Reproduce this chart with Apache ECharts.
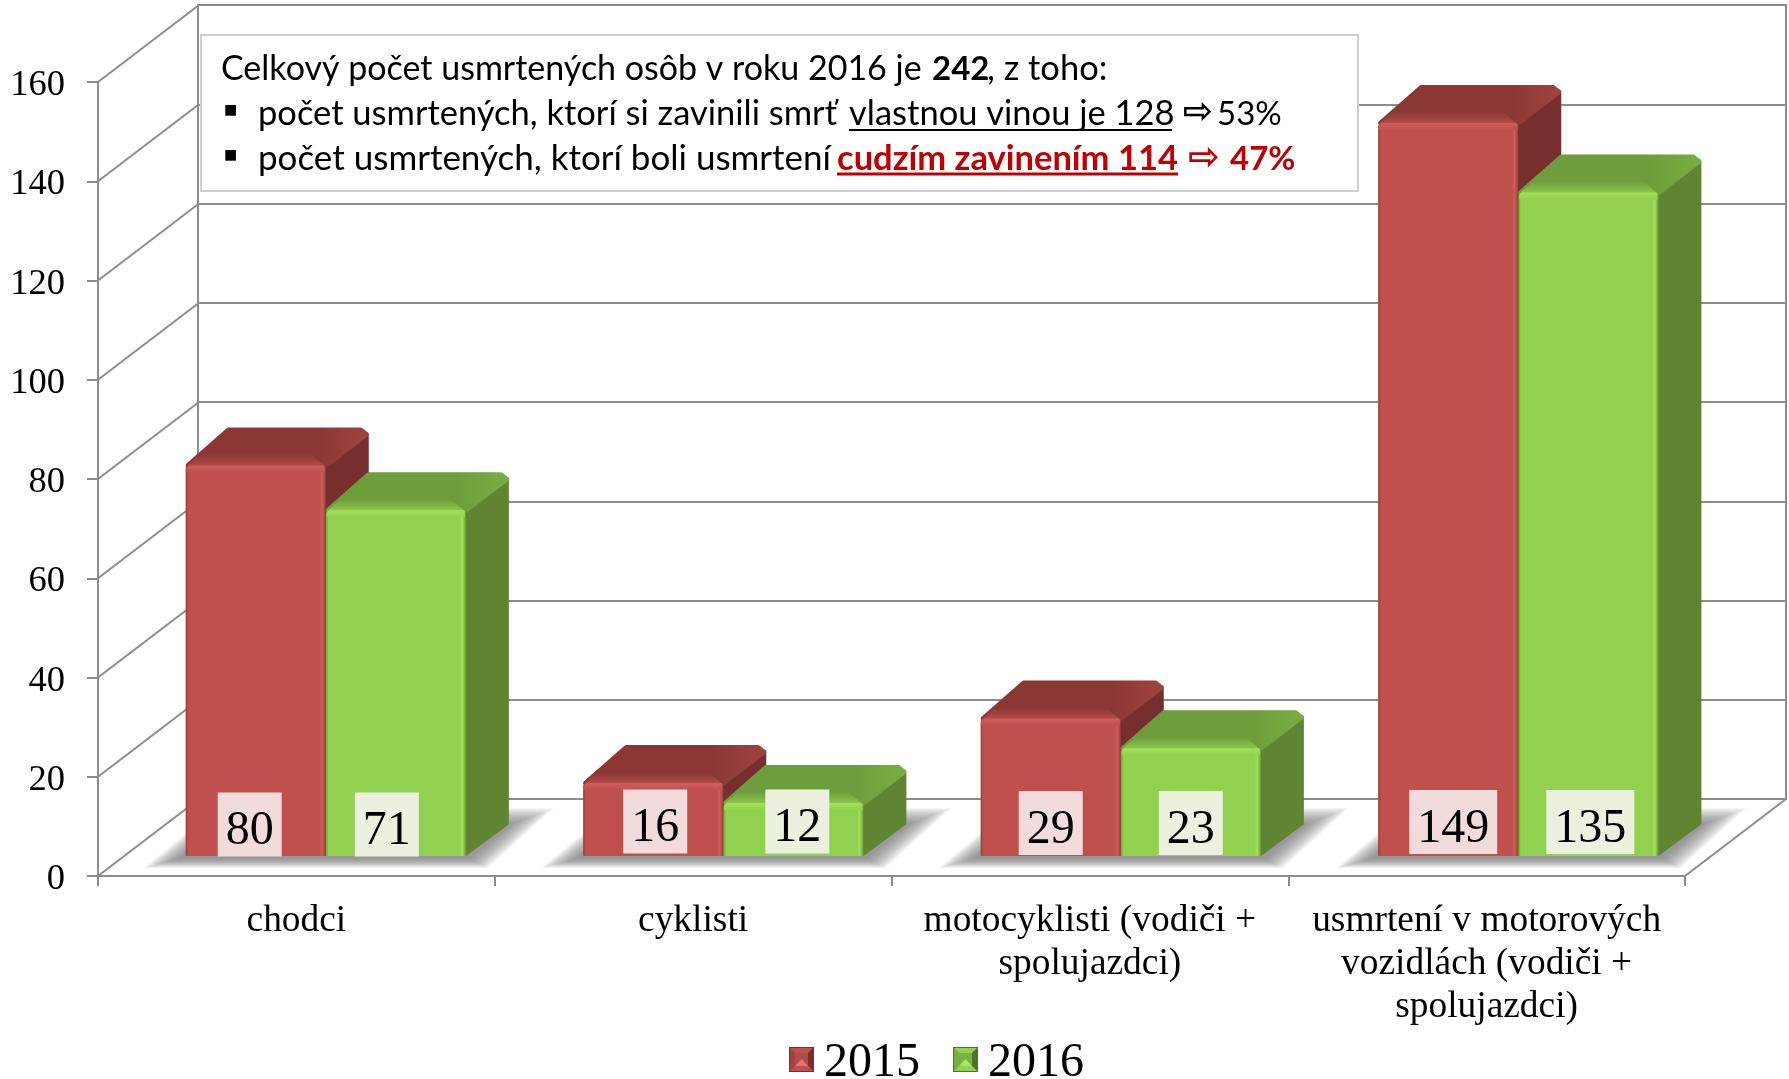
<!DOCTYPE html>
<html>
<head>
<meta charset="utf-8">
<title>Usmrtené osoby</title>
<script src="https://cdn.jsdelivr.net/npm/echarts@6/dist/echarts.min.js"></script>
<style>
  html, body { margin: 0; padding: 0; background: #fff; }
  #chart { width: 1789px; height: 1079px; }
</style>
</head>
<body>
<div id="chart"></div>
<script>
const categories = [
  'chodci',
  'cyklisti',
  'motocyklisti (vodiči +\nspolujazdci)',
  'usmrtení v motorových\nvozidlách (vodiči +\nspolujazdci)'
];
const values2015 = [80, 16, 29, 149];
const values2016 = [71, 12, 23, 135];
const yTicks = [0, 20, 40, 60, 80, 100, 120, 140, 160];

const serif = '"Liberation Serif"';
const boxFont = 'Lato';
const gray = '#8c8c8c';

// depth of the walls and of the bars
const wallDx = 101, wallDy = 77;
const barDx = 43, barDy = 38;
const barShare = 0.3525;   // one bar, as part of the category band
const footLift = 6.5;      // bars stand a bit above the value zero

// the value boxes do not sit exactly in the bar centre
const labelNudgeX = [[-6, -9], [2, 4], [0, 0], [5, 2]];
const labelNudgeY = [1.5, -1.5, 0, -1];

const red = {
  front: '#c0504d', rim: '#d25e5a', dark: '#93403d', edge: '#d05c58',
  top: '#8b3835', topLight: '#9f443f', band: 'rgba(176,74,70,1)', bandClear: 'rgba(176,74,70,0)',
  side: '#772f2d', box: '#f2dcdb'
};
const green = {
  front: '#92d050', rim: '#a4e35b', dark: '#6d9c3c', edge: '#a0e058',
  top: '#6e9d3b', topLight: '#79ae40', band: 'rgba(140,198,76,1)', bandClear: 'rgba(140,198,76,0)',
  side: '#5f8532', box: '#ebf1de'
};

function grad(x2, y2, stops) {
  return {
    type: 'linear', x: 0, y: 0, x2: x2, y2: y2,
    colorStops: stops.map(s => ({ offset: s[0], color: s[1] }))
  };
}

function poly(points, fill, z2) {
  return {
    type: 'polygon', z2: z2, silent: true,
    shape: { points: points },
    style: { fill: fill, stroke: fill, lineWidth: 5, lineJoin: 'round' }
  };
}

// soft floor shadow, stacked thin polygons from wide to narrow
function floorShadow(x0, r, foot) {
  const outer = [[x0 - 42, foot + 12], [r + 22, foot + 12], [r + 88, foot - 48], [x0 + 30, foot - 48]];
  const inner = [[x0 - 8, foot + 3], [r + 4, foot + 3], [r + 46, foot - 32], [x0 + 40, foot - 32]];
  const layers = [];
  const n = 16;
  for (let k = 0; k < n; k++) {
    const t = k / (n - 1);
    layers.push({
      type: 'polygon', z2: 1 + k / 100, silent: true,
      shape: { points: outer.map((p, i) => [p[0] + (inner[i][0] - p[0]) * t, p[1] + (inner[i][1] - p[1]) * t]) },
      style: { fill: 'rgba(110,110,110,0.07)' }
    });
  }
  return layers;
}

function renderBar(col, dodge, seriesIdx, z2) {
  return function (params, api) {
    const cat = api.value(0), val = api.value(1);
    const band = api.size([1, 0])[0];
    const w = band * barShare;
    const c = api.coord([cat, 0]);
    const foot = c[1] - footLift;
    const yt = api.coord([cat, val])[1];
    const x0 = c[0] + dodge * w, x1 = x0 + w;
    const ins = 2.5;
    let kids = [];

    // once per category, drawn with the first series
    if (seriesIdx === 0) {
      kids = kids.concat(floorShadow(x0, x1 + w, foot));
    }

    // side
    kids.push(poly([[x1, foot - 3], [x1 + barDx - ins, foot - barDy + 5], [x1 + barDx - ins, yt - barDy + 7], [x1, yt]],
      col.side, z2));
    // top
    kids.push(poly([[x0 + ins, yt], [x1, yt], [x1 + barDx - ins, yt - barDy + 7], [x1 + barDx - 8, yt - barDy + ins], [x0 + barDx, yt - barDy + ins]],
      grad(1, 0, [[0, col.top], [0.72, col.top], [1, col.topLight]]), z2));
    // lighter band along the front of the top
    kids.push({
      type: 'polygon', z2: z2, silent: true,
      shape: { points: [[x0 + 2, yt], [x1 - 2, yt], [x1 - 15, yt - 11], [x0 + 15, yt - 11]] },
      style: { fill: grad(0, 1, [[0, col.bandClear], [1, col.band]]) }
    });
    // front
    kids.push({
      type: 'rect', z2: z2 + 1, silent: true,
      shape: { x: x0, y: yt, width: w, height: foot - yt, r: [4, 2, 1, 1] },
      style: {
        fill: grad(1, 0, [[0, col.dark], [0.02, col.front], [0.955, col.front], [0.975, col.edge], [1, col.dark]])
      }
    });
    // bright rim over the front
    kids.push({
      type: 'rect', z2: z2 + 1, silent: true,
      shape: { x: x0 + 1, y: yt, width: w - 2, height: 7, r: [4, 2, 0, 0] },
      style: { fill: grad(0, 1, [[0, col.rim], [1, col.front]]) }
    });
    // value box, the digits sit high in their line so they go down a bit
    const text = String(val);
    const boxW = text.length * 24 + 16;
    const lx = x0 + w / 2 + labelNudgeX[cat][seriesIdx];
    const ly = foot - 33 + labelNudgeY[cat];
    kids.push({
      type: 'rect', z2: 39, silent: true,
      shape: { x: lx - boxW / 2, y: ly - 32, width: boxW, height: 64 },
      style: { fill: col.box }
    });
    kids.push({
      type: 'text', z2: 40, silent: true,
      x: lx,
      y: ly + 7,
      style: {
        text: text,
        font: '48px ' + serif,
        fill: '#000',
        align: 'center',
        verticalAlign: 'middle'
      }
    });
    return { type: 'group', children: kids };
  };
}

function renderDiagonal(params, api) {
  const band = api.size([1, 0])[0];
  const val = api.value(1);
  const p = api.coord([0, val]);
  const x = p[0] - band / 2;
  const kids = [{
    type: 'line', silent: true,
    shape: { x1: x, y1: p[1], x2: x + wallDx, y2: p[1] - wallDy },
    style: { stroke: gray, lineWidth: 2 }
  }];
  if (val === 0) {
    const e = api.coord([categories.length - 1, 0])[0] + band / 2;
    kids.push({
      type: 'line', silent: true,
      shape: { x1: e, y1: p[1], x2: e + wallDx, y2: p[1] - wallDy },
      style: { stroke: gray, lineWidth: 2 }
    });
  }
  return { type: 'group', children: kids };
}

function bevelIcon(mid, top, left, right, bottom, rimColor) {
  const svg = '<svg xmlns="http://www.w3.org/2000/svg" width="25" height="25">' +
    '<rect width="25" height="25" fill="' + mid + '"/>' +
    '<polygon points="0,0 25,0 19,6 6,6" fill="' + top + '"/>' +
    '<polygon points="0,0 6,6 6,19 0,25" fill="' + left + '"/>' +
    '<polygon points="25,0 19,6 19,19 25,25" fill="' + right + '"/>' +
    '<polygon points="0,25 6,19 19,19 25,25" fill="' + top + '"/>' +
    '<polygon points="6,19 12.5,12 19,19" fill="' + bottom + '"/>' +
    '<rect x="0.5" y="0.5" width="24" height="24" fill="none" stroke="' + rimColor + '"/>' +
    '</svg>';
  return 'image://data:image/svg+xml;charset=utf-8,' + encodeURIComponent(svg);
}

// one run of text in the info box
function run(text, x, y, opts) {
  opts = opts || {};
  return {
    type: 'text', x: x, y: y, z: 20, silent: true,
    style: {
      text: text,
      font: (opts.weight || 'normal') + ' ' + (opts.size || 34.5) + 'px ' + (opts.family || boxFont),
      fill: opts.color || '#000',
      verticalAlign: 'middle'
    }
  };
}

function rule(x1, x2, y, color, width) {
  return {
    type: 'line', z: 20, silent: true,
    shape: { x1: x1, y1: y, x2: x2, y2: y },
    style: { stroke: color, lineWidth: width }
  };
}

const darkRed = '#c00000';
const arrowFont = '"DejaVu Sans"';
const lineY = [69, 114, 159];

const infoBox = [
  {
    type: 'rect', z: 19, silent: true,
    shape: { x: 201, y: 35, width: 1157, height: 156 },
    style: { fill: '#fff', stroke: '#cfcfcf', lineWidth: 2 }
  },
  run('Celkový počet usmrtených osôb v roku 2016 je', 221, lineY[0], { size: 34 }),
  run('242', 932, lineY[0], { weight: 'bold', size: 33 }),
  run(', z toho:', 987, lineY[0]),

  run('■', 224, lineY[1] - 4, { size: 14, family: arrowFont }),
  run('počet usmrtených, ktorí si zavinili smrť', 258, lineY[1]),
  run('vlastnou vinou je 128', 849, lineY[1]),
  rule(849, 1172, 130, '#000', 2),
  run('⇨', 1183, lineY[1], { size: 36, family: arrowFont, weight: 'bold' }),
  run('53%', 1217, lineY[1], { size: 33 }),

  run('■', 224, lineY[2] - 4, { size: 14, family: arrowFont }),
  run('počet usmrtených, ktorí boli usmrtení', 258, lineY[2], { size: 35 }),
  run('cudzím zavinením 114', 837, lineY[2], { weight: 'bold', color: darkRed }),
  rule(837, 1178, 174, darkRed, 3),
  run('⇨', 1188, lineY[2], { size: 38, family: arrowFont, weight: 'bold', color: darkRed }),
  run('47%', 1230, lineY[2], { weight: 'bold', size: 33, color: darkRed })
];

const chart = echarts.init(document.getElementById('chart'), null, { renderer: 'canvas' });

chart.setOption({
  animation: false,
  backgroundColor: '#fff',
  textStyle: { fontFamily: serif },
  legend: {
    left: 789,
    top: 1039,
    padding: 0,
    itemGap: 33,
    itemWidth: 25,
    itemHeight: 25,
    selectedMode: false,
    formatter: '{year|{name}}',
    textStyle: {
      color: '#000',
      rich: {
        year: { fontFamily: serif, fontSize: 48, color: '#000', padding: [7, 0, 0, 5] }
      }
    },
    data: [
      { name: '2015', icon: bevelIcon('#a8504d', '#c0504d', '#a04440', '#7a2f2d', '#f2706a', '#7a2f2d') },
      { name: '2016', icon: bevelIcon('#7cae45', '#92d050', '#79ae40', '#4f7229', '#a8e860', '#4f7229') }
    ]
  },
  grid: [
    // back wall
    { left: 198, top: 5, width: 1588, height: 794, show: true, borderColor: gray, borderWidth: 2, backgroundColor: 'transparent' },
    // front axes
    { left: 98, top: 82, width: 1587, height: 794 },
    // plane of the bars
    { left: 127, top: 68.5, width: 1590, height: 794 }
  ],
  xAxis: [
    { gridIndex: 0, type: 'category', data: categories, show: false },
    {
      gridIndex: 1, type: 'category', data: categories,
      axisLine: { show: true, lineStyle: { color: gray, width: 2 } },
      axisTick: { show: true, length: 10, alignWithLabel: false, lineStyle: { color: gray, width: 2 } },
      splitLine: { show: false },
      axisLabel: { show: true, interval: 0, margin: 24, fontSize: 37.4, lineHeight: 43, color: '#000', fontFamily: serif }
    },
    { gridIndex: 2, type: 'category', data: categories, show: false }
  ],
  yAxis: [
    {
      gridIndex: 0, type: 'value', min: 0, max: 160, interval: 20,
      axisLine: { show: false }, axisTick: { show: false }, axisLabel: { show: false },
      splitLine: { show: true, lineStyle: { color: gray, width: 2 } }
    },
    {
      gridIndex: 1, type: 'value', min: 0, max: 160, interval: 20,
      axisLine: { show: true, lineStyle: { color: gray, width: 2 } },
      axisTick: { show: true, length: 11, lineStyle: { color: gray, width: 2 } },
      splitLine: { show: false },
      // top aligned with a short line height drops the digits onto the tick
      axisLabel: { show: true, margin: 33, fontSize: 36.5, color: '#000', fontFamily: serif, verticalAlign: 'top', lineHeight: 7 }
    },
    { gridIndex: 2, type: 'value', min: 0, max: 160, interval: 20, show: false, splitLine: { show: false } }
  ],
  graphic: { elements: infoBox },
  series: [
    {
      name: 'steny',
      type: 'custom',
      xAxisIndex: 1,
      yAxisIndex: 1,
      z: 1,
      silent: true,
      clip: false,
      renderItem: renderDiagonal,
      encode: { x: 0, y: 1 },
      data: yTicks.map(v => [0, v])
    },
    {
      name: '2015',
      type: 'custom',
      xAxisIndex: 2,
      yAxisIndex: 2,
      z: 3,
      silent: true,
      clip: false,
      itemStyle: { color: red.front },
      renderItem: renderBar(red, -1, 0, 10),
      encode: { x: 0, y: 1 },
      data: values2015.map((v, i) => [i, v])
    },
    {
      name: '2016',
      type: 'custom',
      xAxisIndex: 2,
      yAxisIndex: 2,
      z: 3,
      silent: true,
      clip: false,
      itemStyle: { color: green.front },
      renderItem: renderBar(green, 0, 1, 20),
      encode: { x: 0, y: 1 },
      data: values2016.map((v, i) => [i, v])
    }
  ]
});
</script>
</body>
</html>
